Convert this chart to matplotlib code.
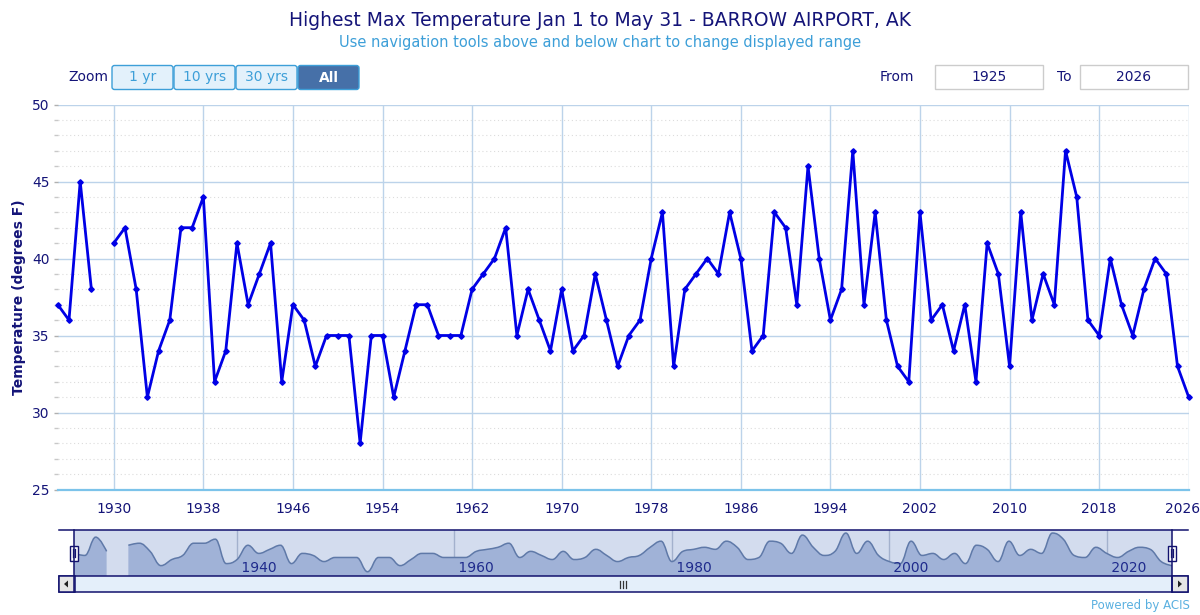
import matplotlib
matplotlib.use('Agg')
import numpy as np
import matplotlib.pyplot as plt
import matplotlib.transforms as mtransforms
from matplotlib.path import Path
from matplotlib.patches import PathPatch, Rectangle, FancyBboxPatch, Polygon

# Highest max temperature Jan 1 - May 31, Barrow Airport AK (1929 missing)
years = list(range(1925, 2027))
temps = [37, 36, 45, 38, np.nan, 41, 42, 38, 31, 34,      # 1925-1934
         36, 42, 42, 44, 32, 34, 41, 37, 39, 41,          # 1935-1944
         32, 37, 36, 33, 35, 35, 35, 28, 35, 35,          # 1945-1954
         31, 34, 37, 37, 35, 35, 35, 38, 39, 40,          # 1955-1964
         42, 35, 38, 36, 34, 38, 34, 35, 39, 36,          # 1965-1974
         33, 35, 36, 40, 43, 33, 38, 39, 40, 39,          # 1975-1984
         43, 40, 34, 35, 43, 42, 37, 46, 40, 36,          # 1985-1994
         38, 47, 37, 43, 36, 33, 32, 43, 36, 37,          # 1995-2004
         34, 37, 32, 41, 39, 33, 43, 36, 39, 37,          # 2005-2014
         47, 44, 36, 35, 40, 37, 35, 38, 40, 39,          # 2015-2024
         33, 31]                                          # 2025-2026

x_ticks = list(range(1930, 2027, 8))
y_ticks = [25, 30, 35, 40, 45, 50]
nav_ticks = [1940, 1960, 1980, 2000, 2020]
zoom_buttons = ['1 yr', '10 yrs', '30 yrs', 'All']
range_from, range_to = '1925', '2026'

title = 'Highest Max Temperature Jan 1 to May 31 - BARROW AIRPORT, AK'
subtitle = 'Use navigation tools above and below chart to change displayed range'

W, H = 1200, 615
NAVY = '#141478'
LBLUE = '#3d9fd8'


def box(l, t, r, b):
    return [l / W, 1 - b / H, (r - l) / W, (b - t) / H]


def spline_segments(xs, ys, smoothing=1.5):
    # bezier path through the points (same scheme as Highcharts spline)
    xs = np.asarray(xs, float)
    ys = np.asarray(ys, float)
    segs = []
    start = None
    for i in range(len(xs) + 1):
        ok = i < len(xs) and not np.isnan(ys[i])
        if ok and start is None:
            start = i
        if not ok and start is not None:
            segs.append((xs[start:i], ys[start:i]))
            start = None
    out = []
    denom = smoothing + 1
    for sx, sy in segs:
        n = len(sx)
        lc = [(sx[k], sy[k]) for k in range(n)]
        rc = [(sx[k], sy[k]) for k in range(n)]
        for k in range(1, n - 1):
            px, py = sx[k], sy[k]
            lx, ly = sx[k - 1], sy[k - 1]
            nx, ny = sx[k + 1], sy[k + 1]
            lcx = (smoothing * px + lx) / denom
            lcy = (smoothing * py + ly) / denom
            rcx = (smoothing * px + nx) / denom
            rcy = (smoothing * py + ny) / denom
            corr = 0
            if rcx != lcx:
                corr = (rcy - lcy) * (rcx - px) / (rcx - lcx) + py - rcy
            lcy += corr
            rcy += corr
            if lcy > ly and lcy > py:
                lcy = max(ly, py)
                rcy = 2 * py - lcy
            elif lcy < ly and lcy < py:
                lcy = min(ly, py)
                rcy = 2 * py - lcy
            if rcy > ny and rcy > py:
                rcy = max(ny, py)
                lcy = 2 * py - rcy
            elif rcy < ny and rcy < py:
                rcy = min(ny, py)
                lcy = 2 * py - rcy
            lc[k] = (lcx, lcy)
            rc[k] = (rcx, rcy)
        verts = [(sx[0], sy[0])]
        codes = [Path.MOVETO]
        for k in range(1, n):
            verts += [rc[k - 1], lc[k], (sx[k], sy[k])]
            codes += [Path.CURVE4] * 3
        out.append((verts, codes))
    return out


fig = plt.figure(figsize=(W / 100, H / 100), dpi=100)

# ---- main chart
ax = fig.add_axes(box(57.8, 104.5, 1188.7, 489.5))
ax.set_xlim(1925, 2026)
ax.set_ylim(25, 50)
ax.set_yticks(y_ticks)
ax.set_yticks(range(25, 51), minor=True)
ax.set_xticks(x_ticks)
ax.grid(which='major', axis='both', color='#bcd3ea', lw=1)
ax.grid(which='minor', axis='y', color='#dcdcdc', lw=0.8, ls=(0, (1, 2.5)))
ax.set_axisbelow(True)
for s in ['top', 'right', 'left']:
    ax.spines[s].set_visible(False)
ax.spines['bottom'].set_color('#7cc3ea')
ax.spines['bottom'].set_linewidth(1.6)
ax.tick_params(axis='x', length=0, pad=9, labelsize=10, labelcolor=NAVY)
ax.tick_params(axis='y', which='major', length=3, width=1, color='#b0b0b0',
               pad=3, labelsize=10, labelcolor=NAVY)
ax.tick_params(axis='y', which='minor', length=3, width=1, color='#c8c8c8')
ax.set_ylabel('Temperature (degrees F)', fontsize=10, fontweight='bold',
              color=NAVY, labelpad=4)
# last year label sits on the right edge; nudge it so it stays inside
last = ax.get_xticklabels()[-1]
last.set_transform(last.get_transform() +
                   mtransforms.ScaledTranslation(-6 / 100, 0, fig.dpi_scale_trans))

ax.plot(years, temps, color='#0000e6', lw=2, marker='D', ms=2.8,
        clip_on=False, zorder=3)

# ---- navigator
nav = fig.add_axes(box(74, 530, 1172, 576))
nav.set_xlim(1925, 2026)
nav.set_ylim(25.9, 48.5)
nav.set_facecolor('#d3dcee')
for s in nav.spines.values():
    s.set_visible(False)
nav.set_xticks(nav_ticks)
nav.set_yticks([])
nav.tick_params(length=0, labelbottom=False)
nav.grid(axis='x', color='#a3b1cd', lw=1)
nav.set_axisbelow(True)
ybot = nav.get_ylim()[0]
for verts, codes in spline_segments(years, temps):
    area_v = verts + [(verts[-1][0], ybot), (verts[0][0], ybot), verts[0]]
    area_c = codes + [Path.LINETO, Path.LINETO, Path.CLOSEPOLY]
    nav.add_patch(PathPatch(Path(area_v, area_c), facecolor='#a0b2d7',
                            edgecolor='none', zorder=1))
    nav.add_patch(PathPatch(Path(verts, codes), facecolor='none',
                            edgecolor='#5f79a8', lw=1.1, zorder=2))
for yr in nav_ticks:
    nav.text(yr, ybot + 0.6, ' %d' % yr, fontsize=10, color='#1e2a8c',
             ha='left', va='bottom', zorder=3)

# ---- UI overlay (titles, buttons, scrollbar)
ui = fig.add_axes([0, 0, 1, 1])
ui.set_xlim(0, W)
ui.set_ylim(H, 0)
ui.axis('off')
ui.patch.set_alpha(0)

ui.text(600, 20, title, fontsize=13.5, color=NAVY, ha='center', va='center')
ui.text(600, 43, subtitle, fontsize=10.5, color=LBLUE, ha='center', va='center')

ui.text(88, 77, 'Zoom', fontsize=10, color=NAVY, ha='center', va='center')
bx = 112
for lab in zoom_buttons:
    sel = lab == 'All'
    ui.add_patch(FancyBboxPatch((bx, 65.5), 61, 24,
                                boxstyle='round,pad=0,rounding_size=2.5',
                                facecolor='#4670a8' if sel else '#e3f1fb',
                                edgecolor='#3d9fd8', lw=1))
    ui.text(bx + 30.5, 77.5, lab, fontsize=10,
            color='white' if sel else LBLUE,
            fontweight='bold' if sel else 'normal', ha='center', va='center')
    bx += 62

ui.text(897, 77, 'From', fontsize=10, color=NAVY, ha='center', va='center')
ui.add_patch(Rectangle((935, 65), 108, 24, facecolor='white',
                       edgecolor='#cccccc', lw=1))
ui.text(989, 77, range_from, fontsize=10, color=NAVY, ha='center', va='center')
ui.text(1064, 77, 'To', fontsize=10, color=NAVY, ha='center', va='center')
ui.add_patch(Rectangle((1080, 65), 108, 24, facecolor='white',
                       edgecolor='#cccccc', lw=1))
ui.text(1134, 77, range_to, fontsize=10, color=NAVY, ha='center', va='center')

# navigator outline and scrollbar
OUT = '#12126e'
ui.plot([58.5, 1188], [530, 530], color=OUT, lw=1.1)
ui.add_patch(Rectangle((58.5, 576), 1129.5, 16, facecolor='#e4effa',
                       edgecolor=OUT, lw=1.1))
for bxl, tri in [(58.5, [(68, 580.5), (68, 587.5), (64, 584)]),
                 (1172, [(1178, 580.5), (1178, 587.5), (1182, 584)])]:
    ui.add_patch(Rectangle((bxl, 576), 16, 16, facecolor='#e6e6e6',
                           edgecolor=OUT, lw=1.1))
    ui.add_patch(Polygon(tri, closed=True, facecolor='#222222', edgecolor='none'))
ui.plot([74, 74], [530, 592], color=OUT, lw=1.1)
ui.plot([1172, 1172], [530, 592], color=OUT, lw=1.1)
for hx in [74, 1172]:
    ui.add_patch(Rectangle((hx - 4, 545.5), 8, 15, facecolor='white',
                           edgecolor=OUT, lw=1))
    ui.plot([hx - 1.3, hx - 1.3], [549, 557], color=OUT, lw=0.9)
    ui.plot([hx + 1.3, hx + 1.3], [549, 557], color=OUT, lw=0.9)
for gx in [619.5, 622.5, 625.5]:
    ui.plot([gx, gx], [580.5, 587.5], color='#333333', lw=0.9)

ui.text(1190, 605, 'Powered by ACIS', fontsize=8.5, color='#5ab0e0',
        ha='right', va='center')

fig.savefig('out.png', dpi=100)
